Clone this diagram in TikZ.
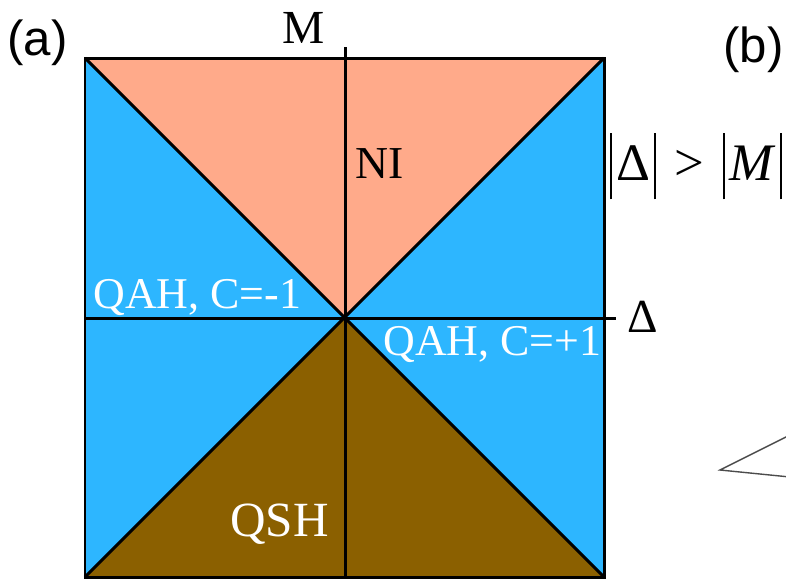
\documentclass[tikz,border=0pt]{standalone}
\usepackage{fontspec}
\setmainfont{Liberation Serif}
\newfontfamily\panelfont{Liberation Sans}
\usetikzlibrary{positioning}
\definecolor{qahblue}{RGB}{45,182,255}
\definecolor{nisalmon}{RGB}{255,170,138}
\definecolor{qshbrown}{RGB}{139,96,0}
\newcommand{\tallbar}{\kern2.5pt\rule[-11pt]{1.1pt}{38pt}\kern2.5pt}
\tikzset{
  axisline/.style={draw=black, line width=1.7pt},
  phaselabel/.style={text=white, inner sep=0pt, anchor=base west,
                     font=\fontsize{25}{28}\selectfont},
  axislabel/.style={inner sep=0pt, anchor=base west,
                    font=\fontsize{27}{30}\selectfont},
  panellabel/.style={inner sep=0pt, anchor=base west,
                     font=\panelfont\fontsize{28}{32}\selectfont},
  sketchline/.style={draw=black!70, line width=0.8pt},
}
\begin{document}
\begin{tikzpicture}[x=0.02cm, y=-0.02cm]
  \useasboundingbox (0,0) rectangle (786,579);
  % corners of the phase square and its centre
  \coordinate (tl) at (85,58);
  \coordinate (tr) at (604,58);
  \coordinate (br) at (604,577);
  \coordinate (bl) at (85,577);
  \coordinate (o) at (345,318);
  % axis ends
  \coordinate (mtop) at (345,47);
  \coordinate (mbot) at (345,577);
  \coordinate (dleft) at (85,318);
  \coordinate (dright) at (616,318);

  % phase regions
  \fill[qahblue] (tl) rectangle (br);
  \fill[nisalmon] (tl) -- (tr) -- (o) -- cycle;
  \fill[qshbrown] (bl) -- (br) -- (o) -- cycle;
  \draw[axisline] (tl) -- (br) (tr) -- (bl);
  \draw[axisline] (tl) rectangle (br);
  \draw[axisline] (mbot) -- (mtop);
  \draw[axisline] (dleft) -- (dright);

  % labels
  \node[panellabel] (pa) at (7,55) {(a)};
  \node[panellabel] (pb) at (723,62) {(b)};
  \node[axislabel] (mlab) at (282,43) {M};
  \node[axislabel] (dlab) at (627,332) {Δ};
  \node[axislabel, font=\fontsize{26}{30}\selectfont] (ni) at (355,178) {NI};
  \node[phaselabel] (qahm) at (93,308) {QAH, C=-1};
  \node[phaselabel] (qahp) at (383,355) {QAH, C=+1};
  \node[phaselabel, font=\fontsize{28}{32}\selectfont] (qsh) at (230,536) {QSH};
  \node[inner sep=0pt, anchor=base west, font=\fontsize{30}{34}\selectfont]
    (cond) at (605,180) {\tallbar Δ\tallbar\kern8pt>\kern8pt\tallbar\textit{M}\tallbar};

  % edge of panel (b)
  \coordinate (tip) at (720,470);
  \coordinate (up) at (830,415);
  \coordinate (low) at (830,481);
  \draw[sketchline] (up) -- (tip) -- (low);
\end{tikzpicture}
\end{document}
